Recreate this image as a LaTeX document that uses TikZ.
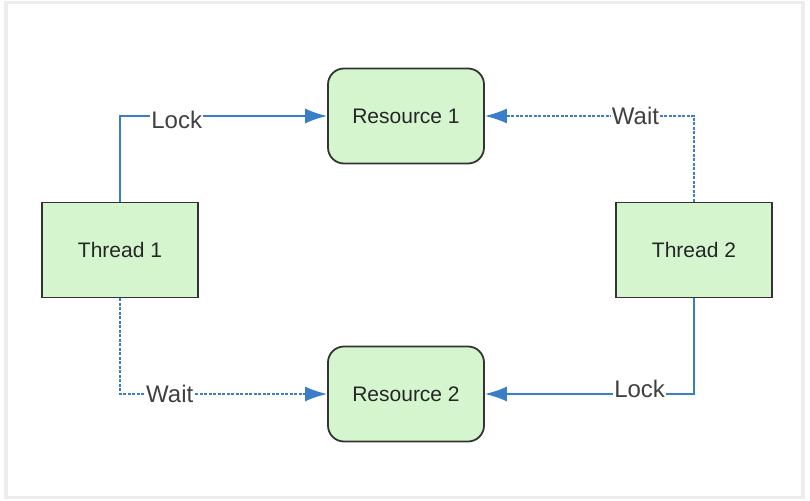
\documentclass[tikz,border=0pt]{standalone}
\usepackage{fontspec}
\setmainfont{Liberation Sans}
\usepackage{xcolor}
\usepackage{tikz}
\usetikzlibrary{arrows.meta}

\definecolor{boxgreen}{HTML}{D4F5CE}
\definecolor{lineblue}{HTML}{3A7DC9}
\definecolor{framegray}{HTML}{EDEDED}

\begin{document}
\begin{tikzpicture}[x=1pt, y=-1pt,
    thread/.style={draw=black!80, line width=1.8pt, fill=boxgreen, minimum width=156pt, minimum height=95pt, font=\fontsize{21}{25}\selectfont, text=black!85},
    resource/.style={thread, rounded corners=16pt},
    lock/.style={-{Latex[length=22pt,width=15pt]}, lineblue, line width=1.6pt},
    wait/.style={lock, dash pattern=on 3pt off 1.5pt},
    tag/.style={fill=white, inner sep=1pt, text=black!75, font=\fontsize{24}{28}\selectfont}]
    % Frame round the picture
    \useasboundingbox (0,0) rectangle (810,500);
    \fill[framegray] (4,1) rectangle (805,499);
    \fill[white] (8,4) rectangle (801,496);

    % Threads and resources
    \node[resource] (res1) at (406, 116) {Resource 1};
    \node[resource] (res2) at (406, 394) {Resource 2};
    \node[thread] (thread1) at (120, 250) {Thread 1};
    \node[thread] (thread2) at (694, 250) {Thread 2};

    % Locks held and waits
    \draw[lock] (thread1.north) |- node[tag, pos=0.637, yshift=-4pt] {Lock} (res1.west);
    \draw[wait] (thread2.north) |- node[tag, pos=0.64] {Wait} (res1.east);
    \draw[wait] (thread1.south) |- node[tag, pos=0.62] {Wait} (res2.west);
    \draw[lock] (thread2.south) |- node[tag, pos=0.63, yshift=5pt] {Lock} (res2.east);
\end{tikzpicture}
\end{document}
